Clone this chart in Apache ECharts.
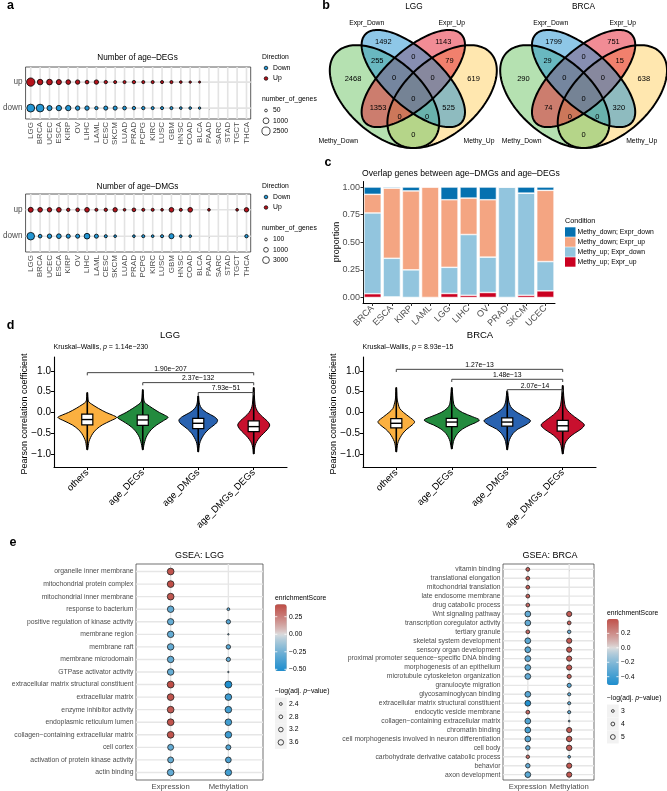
<!DOCTYPE html>
<html><head><meta charset="utf-8">
<script src="https://cdn.jsdelivr.net/npm/echarts@6/dist/echarts.min.js"></script>
<style>html,body{margin:0;padding:0;background:#fff}#chart{width:667px;height:791px}</style>
</head><body><div id="chart"></div>
<script>
// ================= DATA =================
// Panel a
const cancerTypes = ['LGG','BRCA','UCEC','ESCA','KIRP','OV','LIHC','LAML','CESC','SKCM','LUAD','PRAD','PCPG','KIRC','LUSC','GBM','HNSC','COAD','BLCA','PAAD','SARC','STAD','TGCT','THCA'];
const directions = ['down','up'];
const degUp   = [2575,840,910,645,495,395,205,395,140,90,90,140,90,90,90,90,40,16,3,null,null,null,null,null];
const degDown = [2272,2148,645,770,770,395,395,140,305,305,205,140,140,90,90,90,40,40,16,null,null,null,null,null];
const dmgUp   = [1223,973,785,985,280,405,985,180,280,785,80,405,180,180,80,985,180,985,null,80,null,null,80,785];
const dmgDown = [4076,393,785,985,605,605,1810,605,180,80,null,80,180,80,180,1285,80,80,null,null,null,null,null,280];
const degSizeBreaks = [50,1000,2500];
const dmgSizeBreaks = [100,1000,3000];

// Panel b (Venn regions)
const vennSetNames = ['Methy_Down','Expr_Down','Expr_Up','Methy_Up'];
const vennRegions = ['ED','EU','MD&ED','ED&EU','EU&MU','MD','MD&ED&EU','ED&EU&MU','MU','ALL','MD&EU','MD&EU&MU','MD&ED&MU','ED&MU','MD&MU'];
const vennLGG  = [1492,1143,255,0,79,2468,0,0,619,0,1353,0,0,525,0];
const vennBRCA = [1799,751,29,0,15,290,0,0,638,0,74,0,0,320,0];

// Panel c
const overlapTypes = ['BRCA','ESCA','KIRP','LAML','LGG','LIHC','OV','PRAD','SKCM','UCEC'];
const conditionNames = ['Methy_down; Expr_down','Methy_down; Expr_up','Methy_up; Expr_down','Methy_up; Expr_up'];
const propUpUp     = [0.034,0.005,0,0,0.036,0.02,0.045,0,0.02,0.06];
const propUpDown   = [0.731,0.35,0.25,0,0.237,0.55,0.32,1,0.925,0.265];
const propDownUp   = [0.169,0.635,0.715,1,0.612,0.33,0.52,0,0,0.645];
const propDownDown = [0.066,0.01,0.035,0,0.115,0.10,0.115,0,0.055,0.03];

// Panel d
const violinGroups = ['others','age_DEGs','age_DMGs','age_DMGs_DEGs'];
const lggOthersDens = [[0.48,0.006],[0.3,0.015],[0.25,0.03],[0.2,0.08],[0.1,0.2],[0.0,0.34],[-0.06,0.45],[-0.12,0.53],[-0.2,0.42],[-0.3,0.27],[-0.4,0.168],[-0.5,0.102],[-0.6,0.06],[-0.7,0.03],[-0.8,0.018],[-0.9,0.006]];
const lggDegsDens   = [[0.55,0.006],[0.35,0.015],[0.25,0.03],[0.2,0.07],[0.1,0.18],[0.0,0.3],[-0.06,0.39],[-0.12,0.456],[-0.2,0.37],[-0.3,0.252],[-0.4,0.162],[-0.5,0.102],[-0.6,0.06],[-0.7,0.036],[-0.8,0.018],[-0.9,0.006]];
const lggDmgsDens   = [[0.4,0.006],[0.3,0.012],[0.2,0.024],[0.1,0.06],[0.0,0.15],[-0.1,0.288],[-0.18,0.348],[-0.25,0.33],[-0.3,0.288],[-0.4,0.192],[-0.5,0.12],[-0.6,0.072],[-0.7,0.036],[-0.8,0.018],[-0.95,0.006]];
const lggBothDens   = [[0.6,0.006],[0.4,0.012],[0.2,0.024],[0.1,0.042],[0.0,0.084],[-0.1,0.156],[-0.2,0.24],[-0.3,0.288],[-0.4,0.252],[-0.5,0.18],[-0.6,0.108],[-0.7,0.054],[-0.8,0.024],[-0.9,0.012],[-1.0,0.006]];
const brcaOthersDens = [[0.6,0.006],[0.4,0.012],[0.3,0.018],[0.2,0.036],[0.1,0.06],[0.0,0.132],[-0.1,0.228],[-0.22,0.33],[-0.3,0.288],[-0.4,0.192],[-0.5,0.12],[-0.6,0.072],[-0.7,0.036],[-0.8,0.018],[-0.95,0.006]];
const brcaDegsDens   = [[0.6,0.006],[0.4,0.018],[0.2,0.036],[0.1,0.084],[0.0,0.192],[-0.1,0.372],[-0.18,0.498],[-0.25,0.42],[-0.3,0.33],[-0.4,0.192],[-0.5,0.108],[-0.6,0.06],[-0.7,0.03],[-0.88,0.006]];
const brcaDmgsDens   = [[0.52,0.006],[0.3,0.024],[0.2,0.042],[0.1,0.084],[0.0,0.18],[-0.1,0.312],[-0.2,0.42],[-0.3,0.336],[-0.4,0.192],[-0.5,0.108],[-0.6,0.06],[-0.7,0.03],[-0.9,0.006]];
const brcaBothDens   = [[0.65,0.006],[0.4,0.018],[0.2,0.036],[0.1,0.06],[0.0,0.12],[-0.1,0.21],[-0.2,0.312],[-0.3,0.39],[-0.4,0.33],[-0.5,0.216],[-0.6,0.12],[-0.7,0.06],[-0.8,0.03],[-1.0,0.006]];
// [min, q1, median, q3, max]
const lggBoxStats  = [[-0.9,-0.3,-0.17,-0.04,0.48],[-0.9,-0.31,-0.18,-0.06,0.55],[-0.95,-0.39,-0.26,-0.14,0.4],[-1.0,-0.46,-0.34,-0.2,0.6]];
const brcaBoxStats = [[-0.95,-0.37,-0.26,-0.15,0.6],[-0.88,-0.34,-0.23,-0.14,0.6],[-0.9,-0.33,-0.23,-0.13,0.52],[-1.0,-0.45,-0.32,-0.19,0.65]];
const comparePairs = [[1,4],[2,4],[3,4]];
const lggPLabels  = ['1.90e\u2212207','2.37e\u2212132','7.93e\u221251'];
const brcaPLabels = ['1.27e\u221213','1.48e\u221213','2.07e\u221214'];
const lggKW  = '1.14e\u2212230';
const brcaKW = '8.93e\u221215';

// Panel e
const lggTerms = ['organelle inner membrane','mitochondrial protein complex','mitochondrial inner membrane','response to bacterium','positive regulation of kinase activity','membrane region','membrane raft','membrane microdomain','GTPase activator activity','extracellular matrix structural constituent','extracellular matrix','enzyme inhibitor activity','endoplasmic reticulum lumen','collagen\u2212containing extracellular matrix','cell cortex','activation of protein kinase activity','actin binding'];
const lggExprES  = [0.40,0.42,0.39,-0.3,-0.29,-0.3,-0.3,-0.3,-0.29,0.42,0.40,0.38,0.40,0.40,-0.3,-0.29,-0.3];
const lggExprLogP= [4.15,4.15,4.15,4.05,4.0,4.05,4.05,4.05,4.05,4.2,4.15,4.15,4.15,4.15,3.8,3.8,4.1];
const lggMethES  = [null,null,null,-0.3,-0.34,-0.3,-0.33,-0.3,-0.3,-0.52,-0.42,-0.4,-0.4,-0.42,-0.35,-0.37,-0.4];
const lggMethLogP= [null,null,null,2.4,3.1,1.8,3.15,3.05,1.8,4.25,4.1,4.1,4.1,4.1,3.4,3.7,4.05];
const brcaTerms = ['vitamin binding','translational elongation','mitochondrial translation','late endosome membrane','drug catabolic process','Wnt signaling pathway','transcription coregulator activity','tertiary granule','skeletal system development','sensory organ development','proximal promoter sequence\u2212specific DNA binding','morphogenesis of an epithelium','microtubule cytoskeleton organization','granulocyte migration','glycosaminoglycan binding','extracellular matrix structural constituent','endocytic vesicle membrane','collagen\u2212containing extracellular matrix','chromatin binding','cell morphogenesis involved in neuron differentiation','cell body','carbohydrate derivative catabolic process','behavior','axon development'];
const brcaExprES  = [0.34,0.34,0.34,0.34,0.33,-0.3,-0.3,0.32,-0.32,-0.32,-0.3,-0.32,-0.3,null,-0.33,-0.5,0.32,-0.35,-0.38,-0.33,-0.3,0.3,-0.3,-0.32];
const brcaExprLogP= [4.0,4.0,4.0,4.0,4.0,6.0,6.0,4.0,6.0,6.0,6.0,6.0,6.0,null,6.0,6.0,4.0,6.0,6.0,6.0,4.7,3.7,4.7,6.0];
const brcaMethES  = [null,null,null,null,null,0.37,0.35,-0.27,0.37,0.38,0.37,0.38,0.35,-0.33,-0.3,-0.3,-0.3,-0.3,0.37,0.38,0.37,-0.3,0.38,0.38];
const brcaMethLogP= [null,null,null,null,null,5.4,4.0,3.7,5.4,5.4,5.4,5.4,4.4,4.4,3.4,3.4,3.4,2.0,5.4,5.7,5.7,3.0,5.4,5.4];
const gseaColumns = ['Expression','Methylation'];
const lggEsBreaks = [0.25,0,-0.25,-0.5];
const brcaEsBreaks = [0.2,0,-0.2,-0.4];
const lggPBreaks = [2.4,2.8,3.2,3.6];
const brcaPBreaks = [3,4,5];

// ================= STYLE / LAYOUT =================
const FONT = '"Liberation Sans", Arial, Helvetica, sans-serif';
const GRAY30 = '#4d4d4d';
const COL_UP = '#b5131c', COL_DOWN = '#2496d3';
const degSize = v => 1.9 + 0.126 * Math.sqrt(v);
const dmgSize = v => 1.9 + 0.0893 * Math.sqrt(v);
const lggPSize = v => 2.8 + 2.25 * (v - 2.4);
const brcaPSize = v => 2.8 + 1.0 * (v - 3);
// fill drawing order: Methy_Up, Methy_Down, Expr_Up, Expr_Down
const vennDrawOrder = [3, 0, 2, 1];
const vennColors = ['rgba(108,196,100,0.5)','rgba(30,144,208,0.5)','rgba(228,26,44,0.5)','rgba(255,208,96,0.5)'];
// ellipse geometry (VennDiagram quad layout): cx, cy, a, b, rotation
const vennEllipses = [[0.35,0.47,0.35,0.20,135],[0.50,0.57,0.35,0.15,135],[0.50,0.57,0.35,0.15,45],[0.65,0.47,0.35,0.20,45]];
const vennLabelPos = [[0.344,0.771],[0.656,0.771],[0.312,0.667],[0.5,0.688],[0.688,0.667],[0.186,0.567],[0.40,0.571],[0.60,0.571],[0.814,0.567],[0.5,0.457],[0.316,0.405],[0.428,0.3585],[0.572,0.3585],[0.684,0.405],[0.5,0.257]];
const condColors = ['#0571b0','#f4a582','#92c5de','#ca0020'];
const violinColors = ['#fbb040','#238b3e','#2962b0','#c8102e'];
const lggBracketY = [0.96,0.72,0.48];
const brcaBracketY = [1.04,0.80,0.55];
const ES_LOW = [30,142,206], ES_MID = [222,222,222], ES_HIGH = [185,50,42];

function mix(a, b, t) { return 'rgb(' + a.map((v, i) => Math.round(v + (b[i] - v) * t)).join(',') + ')'; }
function esStops(min, max) {
  const m = Math.max(Math.abs(min), Math.abs(max)), out = [];
  for (let k = 0; k <= 30; k++) {
    const v = min + (max - min) * k / 30, t = v / m;
    out.push(t < 0 ? mix(ES_MID, ES_LOW, Math.pow(-t, 0.8)) : mix(ES_MID, ES_HIGH, Math.pow(t, 0.8)));
  }
  return out;
}

function T(x, y, text, size, o) {
  o = o || {};
  const el = {type:'text', x:x, y:y, z:100, silent:true, style:{text:text, fontFamily:FONT, fontSize:size,
    fontWeight:o.bold ? 'bold' : 'normal', fill:o.color || '#000', align:o.align || 'left', verticalAlign:o.va || 'middle'}};
  if (o.rot) el.rotation = o.rot;
  if (o.rich) el.style.rich = o.rich;
  return el;
}
function C(cx, cy, d, fill) { return {type:'circle', z:100, silent:true, shape:{cx:cx, cy:cy, r:d / 2}, style:{fill:fill, stroke:'#000', lineWidth:0.7}}; }
function R(x, y, w, h, fill) { return {type:'rect', z:99, silent:true, shape:{x:x, y:y, width:w, height:h}, style:{fill:fill}}; }
function Ln(x1, y1, x2, y2, color, w) { return {type:'line', z:101, silent:true, shape:{x1:x1, y1:y1, x2:x2, y2:y2}, style:{stroke:color, lineWidth:w}}; }

const grids = [], xAxes = [], yAxes = [], series = [], visualMaps = [], graphics = [];
function addGrid(g) { grids.push(Object.assign({containLabel:false}, g)); return grids.length - 1; }
const hidden = {axisLine:{show:false}, axisTick:{show:false}, axisLabel:{show:false}, splitLine:{show:false}};

function gridLines(gi, xs, ys, xr, yr, color, w) {
  const items = xs.map(v => ['v', v]).concat(ys.map(v => ['h', v]));
  series.push({type:'custom', xAxisIndex:gi, yAxisIndex:gi, silent:true, z:1,
    data: items.map(() => [xr[0], yr[0]]),
    renderItem: function (params, api) {
      const it = items[params.dataIndex];
      const p1 = it[0] === 'v' ? api.coord([it[1], yr[0]]) : api.coord([xr[0], it[1]]);
      const p2 = it[0] === 'v' ? api.coord([it[1], yr[1]]) : api.coord([xr[1], it[1]]);
      return {type:'line', shape:{x1:p1[0], y1:p1[1], x2:p2[0], y2:p2[1]}, style:{stroke:color, lineWidth:w}};
    }});
}

// ================= PANEL a =================
const catIdx = cancerTypes.map((_, i) => i);
function panelA(top, height, yr, upVals, downVals, sizeFn) {
  const gi = addGrid({left:23.3, top:top, width:227.4, height:height, show:true, borderColor:'#333', borderWidth:0.8});
  const xr = [-0.55, 23.45];
  xAxes.push({gridIndex:gi, type:'value', min:xr[0], max:xr[1], splitLine:{show:false}, axisLine:{show:false},
    axisTick:{show:true, customValues:catIdx, length:2, lineStyle:{color:'#333', width:0.8}},
    axisLabel:{show:true, customValues:catIdx, rotate:90, margin:3, fontSize:8, color:GRAY30, fontFamily:FONT,
      formatter: v => cancerTypes[Math.round(v)]}});
  yAxes.push({gridIndex:gi, type:'value', min:yr[0], max:yr[1], splitLine:{show:false}, axisLine:{show:false},
    axisTick:{show:true, customValues:[0,1], length:2, lineStyle:{color:'#333', width:0.8}},
    axisLabel:{show:true, customValues:[0,1], margin:3, fontSize:8.2, color:GRAY30, fontFamily:FONT,
      formatter: v => directions[Math.round(v)]}});
  gridLines(gi, catIdx, [0,1], xr, yr, '#e3e3e3', 1.6);
  [[upVals, 1, COL_UP], [downVals, 0, COL_DOWN]].forEach(([vals, row, col]) => {
    series.push({type:'scatter', xAxisIndex:gi, yAxisIndex:gi, z:3, silent:true,
      data: cancerTypes.map((c, i) => [i, row, vals[i]]).filter(d => d[2] != null),
      symbolSize: v => sizeFn(v[2]),
      itemStyle:{color:col, borderColor:'#000', borderWidth:0.8, opacity:1}});
  });
}
panelA(67, 52, [-0.42, 1.58], degUp, degDown, degSize);
panelA(194, 58, [-0.6, 1.6], dmgUp, dmgDown, dmgSize);
graphics.push(T(137.5, 58, 'Number of age\u2013DEGs', 8.2, {align:'center'}));
graphics.push(T(137.5, 187, 'Number of age\u2013DMGs', 8.2, {align:'center'}));
function aLegend(y0, breaks, sizeFn) {
  graphics.push(T(262, y0, 'Direction', 6.8));
  graphics.push(C(266, y0 + 11, 3.6, COL_DOWN), T(273, y0 + 11, 'Down', 6.8));
  graphics.push(C(266, y0 + 21.5, 3.6, COL_UP), T(273, y0 + 21.5, 'Up', 6.8));
  graphics.push(T(262, y0 + 42.5, 'number_of_genes', 6.8));
  breaks.forEach((b, k) => {
    const y = y0 + 53.5 + k * 10.3;
    graphics.push(C(266, y, sizeFn(b), 'rgba(255,255,255,0)'), T(273, y, String(b), 6.8));
  });
}
aLegend(57, degSizeBreaks, degSize);
aLegend(186, dmgSizeBreaks, dmgSize);

// ================= PANEL b =================
function venn(left, counts, title, titleX, namePos) {
  const gi = addGrid({left:left, top:26.2, width:167, height:124.5});
  xAxes.push(Object.assign({gridIndex:gi, type:'value', min:0.065, max:0.935}, hidden));
  yAxes.push(Object.assign({gridIndex:gi, type:'value', min:0.17, max:0.86}, hidden));
  function ellPts(api, e) {
    const th = e[4] * Math.PI / 180, pts = [];
    for (let k = 0; k < 160; k++) {
      const t = k / 160 * 2 * Math.PI;
      const x = e[0] + e[2] * Math.cos(t) * Math.cos(th) - e[3] * Math.sin(t) * Math.sin(th);
      const y = e[1] + e[2] * Math.cos(t) * Math.sin(th) + e[3] * Math.sin(t) * Math.cos(th);
      pts.push(api.coord([x, y]));
    }
    return pts;
  }
  series.push({type:'custom', xAxisIndex:gi, yAxisIndex:gi, silent:true, z:2,
    data: vennDrawOrder.map(k => [vennEllipses[k][0], vennEllipses[k][1]]),
    renderItem: (p, api) => {
      const k = vennDrawOrder[p.dataIndex];
      return {type:'polygon', shape:{points:ellPts(api, vennEllipses[k])}, style:{fill:vennColors[k], stroke:null}};
    }});
  series.push({type:'custom', xAxisIndex:gi, yAxisIndex:gi, silent:true, z:3,
    data: vennEllipses.map(e => [e[0], e[1]]),
    renderItem: (p, api) => ({type:'polygon', shape:{points:ellPts(api, vennEllipses[p.dataIndex])}, style:{fill:null, stroke:'#000', lineWidth:2}})});
  series.push({type:'custom', xAxisIndex:gi, yAxisIndex:gi, silent:true, z:4,
    data: vennLabelPos.map((pos, i) => [pos[0], pos[1], counts[i]]),
    renderItem: (p, api) => {
      const c = api.coord([api.value(0), api.value(1)]);
      return {type:'text', x:c[0], y:c[1], style:{text:String(api.value(2)), fontFamily:FONT, fontSize:7.5, fill:'#000', align:'center', verticalAlign:'middle'}};
    }});
  graphics.push(T(titleX, 7, title, 8.3, {align:'center'}));
  vennSetNames.forEach((n, i) => graphics.push(T(namePos[i][0], namePos[i][1], n, 6.8, {align:'center'})));
}
venn(329.8, vennLGG, 'LGG', 414, [[338.3,140.7],[366.7,22.7],[451.7,22.7],[479,140.7]]);
venn(500.2, vennBRCA, 'BRCA', 583.5, [[521.7,140.7],[550.7,22.7],[622.7,22.7],[641.7,140.7]]);

// ================= PANEL c =================
(function () {
  const gi = addGrid({left:363, top:181.5, width:192, height:121.5});
  xAxes.push({gridIndex:gi, type:'category', data:overlapTypes, boundaryGap:true,
    axisLine:{show:true, onZero:false, lineStyle:{color:'#000', width:1}},
    axisTick:{show:true, alignWithLabel:true, length:3, lineStyle:{color:'#333'}},
    axisLabel:{rotate:45, fontSize:9, color:GRAY30, fontFamily:FONT, margin:4, interval:0}, splitLine:{show:false}});
  const ticks = [0, 0.25, 0.5, 0.75, 1];
  yAxes.push({gridIndex:gi, type:'value', min:-0.05, max:1.05, splitLine:{show:false},
    axisLine:{show:true, onZero:false, lineStyle:{color:'#000', width:1}},
    axisTick:{show:true, customValues:ticks, length:2.5, lineStyle:{color:'#333'}},
    axisLabel:{customValues:ticks, fontSize:9, color:GRAY30, fontFamily:FONT, margin:3, formatter: v => v.toFixed(2)}});
  const stackOrder = [[propUpUp, 3], [propUpDown, 2], [propDownUp, 1], [propDownDown, 0]];
  stackOrder.forEach(([vals, ci]) => {
    series.push({type:'bar', xAxisIndex:gi, yAxisIndex:gi, stack:'c', barWidth:'90%', silent:true, z:2,
      data: vals, itemStyle:{color:condColors[ci], borderColor:'#fff', borderWidth:0.6}});
  });
  graphics.push(T(362, 174, 'Overlap genes between age\u2013DMGs and age\u2013DEGs', 8.6));
  graphics.push(T(336.5, 242, 'proportion', 9, {align:'center', rot:Math.PI / 2}));
  graphics.push(T(565, 221, 'Condition', 7.2));
  conditionNames.forEach((n, k) => {
    const y = 232 + k * 10;
    graphics.push(R(565, y - 4.7, 10.5, 9.4, condColors[k]), T(577.5, y, n, 6.8));
  });
})();

// ================= PANEL d =================
function violinPanel(left, title, titleX, densities, stats, pLabels, bracketY, kw) {
  const gi = addGrid({left:left, top:357, width:233, height:110});
  const xs = [1,2,3,4], ys = [-1,-0.5,0,0.5,1];
  xAxes.push({gridIndex:gi, type:'value', min:0.4, max:4.6, splitLine:{show:false},
    axisLine:{show:true, onZero:false, lineStyle:{color:'#000', width:1.1}},
    axisTick:{show:true, customValues:xs, length:3, lineStyle:{color:'#000', width:1}},
    axisLabel:{customValues:xs, rotate:45, fontSize:9.5, color:'#000', fontFamily:FONT, margin:4,
      formatter: v => violinGroups[Math.round(v) - 1]}});
  yAxes.push({gridIndex:gi, type:'value', min:-1.313, max:1.337, splitLine:{show:false},
    axisLine:{show:true, onZero:false, lineStyle:{color:'#000', width:1.1}},
    axisTick:{show:true, customValues:ys, length:3, lineStyle:{color:'#000', width:1}},
    axisLabel:{customValues:ys, fontSize:10, color:'#000', fontFamily:FONT, margin:3,
      formatter: v => (v < 0 ? '\u2212' : '') + Math.abs(v).toFixed(1)}});
  series.push({type:'custom', xAxisIndex:gi, yAxisIndex:gi, silent:true, z:3,
    data: stats.map((s, i) => [i + 1, s[2]]),
    renderItem: function (params, api) {
      const i = params.dataIndex, x = i + 1, s = stats[i], dens = densities[i];
      const pts = [api.coord([x, dens[0][0]])];
      dens.forEach(([y, w]) => pts.push(api.coord([x + w, y])));
      pts.push(api.coord([x, dens[dens.length - 1][0]]));
      dens.slice().reverse().forEach(([y, w]) => pts.push(api.coord([x - w, y])));
      const bw = 0.1;
      const b1 = api.coord([x - bw, s[3]]), b2 = api.coord([x + bw, s[1]]);
      const m1 = api.coord([x - bw, s[2]]), m2 = api.coord([x + bw, s[2]]);
      const wt = api.coord([x, s[4]]), wb = api.coord([x, s[0]]);
      return {type:'group', children:[
        {type:'polygon', shape:{points:pts, smooth:0.3}, style:{fill:violinColors[i], stroke:'#000', lineWidth:1}},
        {type:'line', shape:{x1:wt[0], y1:wt[1], x2:wb[0], y2:wb[1]}, style:{stroke:'#000', lineWidth:1.6}},
        {type:'rect', shape:{x:b1[0], y:b1[1], width:b2[0] - b1[0], height:b2[1] - b1[1]}, style:{fill:'#fff', stroke:'#000', lineWidth:1.2}},
        {type:'line', shape:{x1:m1[0], y1:m1[1], x2:m2[0], y2:m2[1]}, style:{stroke:'#000', lineWidth:1.4}}
      ]};
    }});
  series.push({type:'custom', xAxisIndex:gi, yAxisIndex:gi, silent:true, z:4,
    data: comparePairs.map((pr, k) => [pr[0], bracketY[k]]),
    renderItem: function (params, api) {
      const k = params.dataIndex, pr = comparePairs[k], y = bracketY[k];
      const a = api.coord([pr[0], y - 0.065]), b = api.coord([pr[0], y]), c = api.coord([pr[1], y]), d = api.coord([pr[1], y - 0.065]);
      const mid = api.coord([(pr[0] + pr[1]) / 2, y]);
      return {type:'group', children:[
        {type:'polyline', shape:{points:[a, b, c, d]}, style:{stroke:'#444', lineWidth:1, fill:null}},
        {type:'text', x:mid[0], y:mid[1] - 0.5, style:{text:pLabels[k], fontFamily:FONT, fontSize:6.8, fill:'#000', align:'center', verticalAlign:'bottom'}}
      ]};
    }});
  graphics.push(T(titleX, 335, title, 9.5, {align:'center'}));
  graphics.push(T(left - 0.5, 347, 'Kruskal\u2013Wallis, {i|p} = ' + kw, 7, {rich:{i:{fontStyle:'italic', fontFamily:FONT, fontSize:7}}}));
  graphics.push(T(left - 29, 414, 'Pearson correlation coefficient', 9, {align:'center', rot:Math.PI / 2}));
}
violinPanel(54, 'LGG', 170, [lggOthersDens, lggDegsDens, lggDmgsDens, lggBothDens], lggBoxStats, lggPLabels, lggBracketY, lggKW);
violinPanel(363, 'BRCA', 480, [brcaOthersDens, brcaDegsDens, brcaDmgsDens, brcaBothDens], brcaBoxStats, brcaPLabels, brcaBracketY, brcaKW);

// ================= PANEL e =================
function gseaPanel(o) {
  const n = o.terms.length;
  const gi = addGrid({left:o.left, top:564, width:o.width, height:216, show:true, borderColor:'#333', borderWidth:0.7});
  const xr = [-0.6, 1.6], yr = [-0.6, n - 0.4];
  const rows = o.terms.map((_, i) => i);
  xAxes.push({gridIndex:gi, type:'value', min:xr[0], max:xr[1], splitLine:{show:false}, axisLine:{show:false},
    axisTick:{show:true, customValues:[0,1], length:2, lineStyle:{color:'#333', width:0.8}},
    axisLabel:{customValues:[0,1], fontSize:7.7, color:GRAY30, fontFamily:FONT, margin:3, formatter: v => gseaColumns[Math.round(v)]}});
  yAxes.push({gridIndex:gi, type:'value', min:yr[0], max:yr[1], inverse:true, splitLine:{show:false}, axisLine:{show:false},
    axisTick:{show:true, customValues:rows, length:2, lineStyle:{color:'#333', width:0.8}},
    axisLabel:{customValues:rows, fontSize:6.8, color:GRAY30, fontFamily:FONT, margin:2.5, formatter: v => o.terms[Math.round(v)]}});
  gridLines(gi, [0, 1], rows, xr, yr, '#e6e6e6', 1.4);
  const data = [];
  o.terms.forEach((t, i) => {
    if (o.exprES[i] != null) data.push([0, i, o.exprP[i], o.exprES[i]]);
    if (o.methES[i] != null) data.push([1, i, o.methP[i], o.methES[i]]);
  });
  series.push({type:'scatter', xAxisIndex:gi, yAxisIndex:gi, z:3, silent:true, data:data,
    symbolSize: v => o.sizeFn(v[2]), itemStyle:{borderColor:'#222', borderWidth:0.8, opacity:1}});
  const si = series.length - 1;
  visualMaps.push({type:'continuous', seriesIndex:[si], dimension:3, min:o.esMin, max:o.esMax, calculable:false,
    left:o.legX, top:o.barTop, itemWidth:11.7, itemHeight:o.barH, padding:0, hoverLink:false, realtime:false,
    inRange:{color:esStops(o.esMin, o.esMax)}, outOfRange:{color:'#999'}});
  graphics.push(T(o.titleX, 556, o.title, 9, {align:'center'}));
  graphics.push(T(o.legX, o.barTop - 6, 'enrichmentScore', 6.8));
  o.esBreaks.forEach(b => {
    const y = o.barTop + (o.esMax - b) / (o.esMax - o.esMin) * o.barH;
    graphics.push(T(o.legX + 14, y, (b < 0 ? '\u2212' : '') + Math.abs(b).toFixed(o.dec), 6.8));
    graphics.push(Ln(o.legX, y, o.legX + 2.3, y, '#fff', 0.8), Ln(o.legX + 9.4, y, o.legX + 11.7, y, '#fff', 0.8));
  });
  graphics.push(T(o.legX, o.sizeTitleY, '\u2212log(adj. {i|p}\u2212value)', 6.8, {rich:{i:{fontStyle:'italic', fontFamily:FONT, fontSize:6.8}}}));
  o.pBreaks.forEach((b, k) => {
    const y = o.sizeTitleY + 13 + k * o.keyStep;
    graphics.push(R(o.legX, y - o.keyStep / 2, 11.7, o.keyStep, '#f2f2f2'));
    graphics.push(C(o.legX + 5.85, y, o.sizeFn(b), 'rgba(255,255,255,0)'), T(o.legX + 14, y, String(b), 6.8));
  });
}
gseaPanel({terms:lggTerms, exprES:lggExprES, exprP:lggExprLogP, methES:lggMethES, methP:lggMethLogP, sizeFn:lggPSize,
  left:136, width:127, title:'GSEA: LGG', titleX:199.5, legX:275, barTop:604.3, barH:66.7, esMin:-0.524, esMax:0.427,
  esBreaks:lggEsBreaks, dec:2, sizeTitleY:691, pBreaks:lggPBreaks, keyStep:12.8});
gseaPanel({terms:brcaTerms, exprES:brcaExprES, exprP:brcaExprLogP, methES:brcaMethES, methP:brcaMethLogP, sizeFn:brcaPSize,
  left:503, width:91, title:'GSEA: BRCA', titleX:550, legX:607, barTop:619, barH:66, esMin:-0.515, esMax:0.399,
  esBreaks:brcaEsBreaks, dec:1, sizeTitleY:698, pBreaks:brcaPBreaks, keyStep:13});

// panel letters
[['a',10.5,6],['b',326,6],['c',328,163],['d',10.5,326],['e',13,543]].forEach(([t, x, y]) =>
  graphics.push(T(x, y, t, 12.5, {bold:true, align:'center'})));

const chart = echarts.init(document.getElementById('chart'), null, {renderer:'canvas', width:667, height:791});
chart.setOption({
  animation:false, backgroundColor:'#fff', textStyle:{fontFamily:FONT},
  grid:grids, xAxis:xAxes, yAxis:yAxes, series:series, visualMap:visualMaps, graphic:graphics
});
</script></body></html>
